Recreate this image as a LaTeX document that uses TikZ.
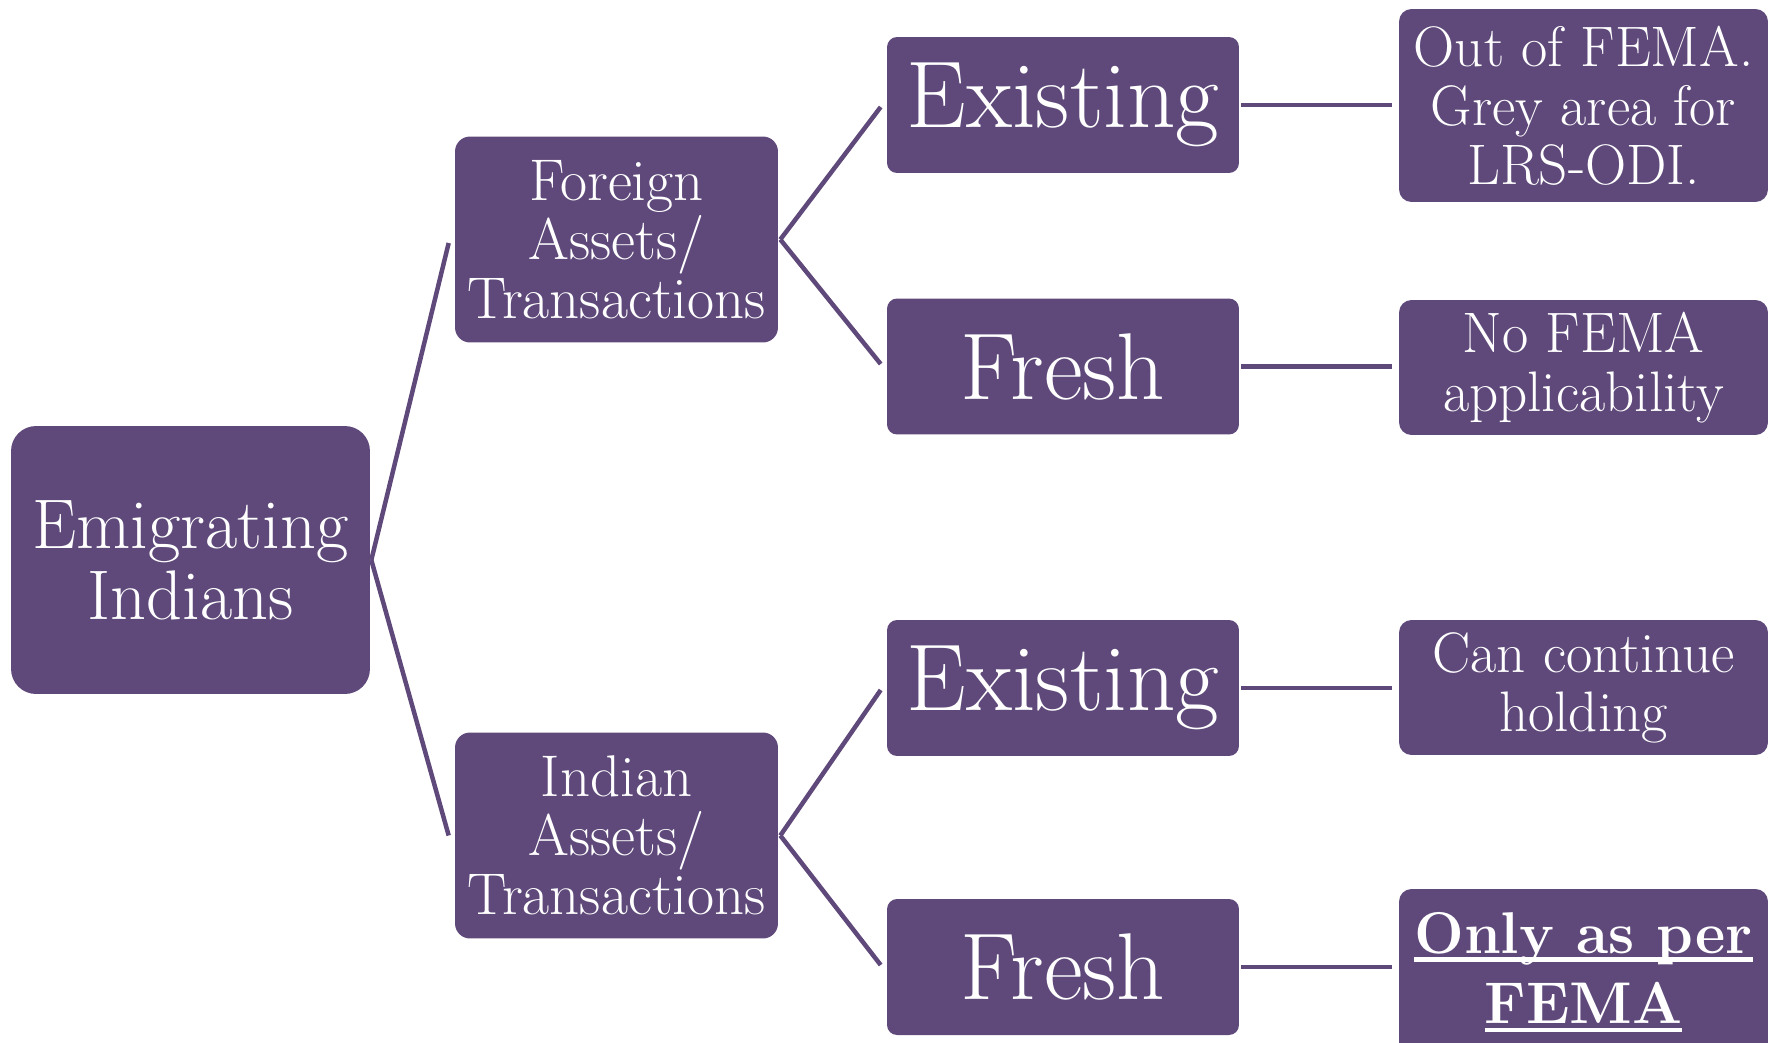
\documentclass[tikz,border=0pt]{standalone}
\usepackage{fontspec}
\usepackage[]{xcolor}
\usepackage{tikz}
\usetikzlibrary{positioning}
\definecolor{emipurple}{HTML}{5F497A}
\newcommand{\femaline}[1]{\setbox0=\hbox{#1}\rlap{\rule[-0.14em]{\wd0}{0.07em}}\box0}
\tikzset{
		box/.style={fill=emipurple, text=white, align=center, inner sep=0pt},
		rootbox/.style={box, rounded corners=0.5cm, minimum width=7.18cm, minimum height=5.36cm,
			font=\fontsize{40}{40.5}\selectfont},
		groupbox/.style={box, rounded corners=0.3cm, minimum width=6.46cm, minimum height=4.12cm,
			font=\fontsize{33.5}{33.5}\selectfont},
		kindbox/.style={box, rounded corners=0.2cm, minimum width=7.04cm, minimum height=2.72cm,
			font=\fontsize{54}{56}\selectfont},
		rulebox/.style={box, rounded corners=0.25cm, minimum width=7.38cm, minimum height=2.7cm,
			font=\fontsize{32.5}{33.5}\selectfont},
		link/.style={draw=emipurple, line width=0.09cm}
	}
\begin{document}
\begin{tikzpicture}[x=0.02cm, y=-0.02cm]
		\useasboundingbox (0,0) rectangle (1769,1042);

		\node[rootbox]  (emi)      at (190.5,560)  {Emigrating\\Indians};
		\node[groupbox] (foreign)  at (616.5,239.5) {Foreign\\Assets/\\Transactions};
		\node[groupbox] (indian)   at (616.5,835.5) {Indian\\Assets/\\Transactions};

		\node[kindbox]  (ex1) at (1063,105)   {Existing};
		\node[kindbox]  (fr1) at (1063,366.5) {Fresh};
		\node[kindbox]  (ex2) at (1063,688)   {Existing};
		\node[kindbox]  (fr2) at (1063,967)   {Fresh};

		\node[rulebox, minimum height=3.86cm] (out)     at (1583.5,105.5) {Out of FEMA.\\Grey area for\\LRS-ODI.};
		\node[rulebox]                        (nofema)  at (1583.5,367.5) {No FEMA\\applicability};
		\node[rulebox]                        (cancont) at (1583.5,687.5) {Can continue\\holding};
		\node[rulebox, minimum height=3.32cm, font=\bfseries\fontsize{33.5}{40}\selectfont]
		                                      (only)    at (1583.5,972)   {\femaline{Only as per}\\\femaline{FEMA}};

		\draw[link] ([xshift=0.02cm]emi.east) -- ([xshift=-0.12cm,yshift=-0.07cm]foreign.west);
		\draw[link] ([xshift=0.02cm]emi.east) -- ([xshift=-0.12cm]indian.west);

		\draw[link] ([xshift=0.04cm]foreign.east) -- ([xshift=-0.12cm,yshift=-0.04cm]ex1.west);
		\draw[link] ([xshift=0.04cm]foreign.east) -- ([xshift=-0.12cm,yshift=0.05cm]fr1.west);
		\draw[link] ([xshift=0.04cm]indian.east) -- ([xshift=-0.12cm,yshift=-0.04cm]ex2.west);
		\draw[link] ([xshift=0.04cm]indian.east) -- ([xshift=-0.12cm,yshift=0.04cm]fr2.west);

		\foreach \a/\b in {ex1/out, fr1/nofema, ex2/cancont, fr2/only}
			\draw[link] ([xshift=0.04cm]\a.east) -- ([xshift=-0.14cm]\b.west |- \a.east);
	\end{tikzpicture}
\end{document}
